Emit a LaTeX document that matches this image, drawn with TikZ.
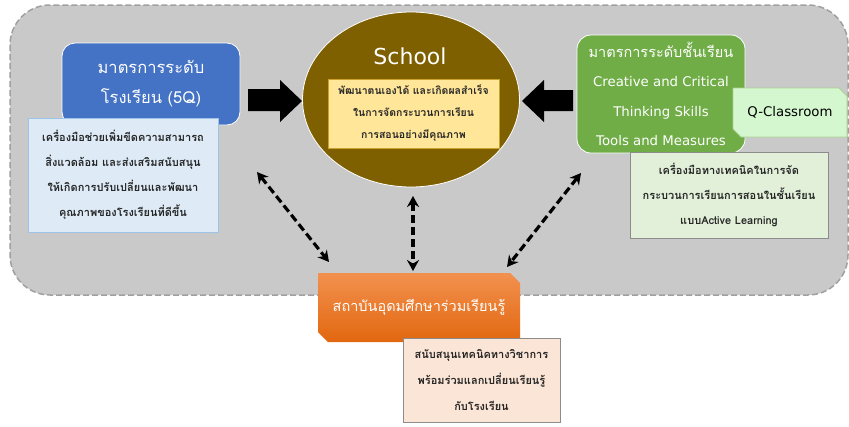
\documentclass[tikz,border=0pt]{standalone}
\usepackage{fontspec}
\setmainfont[Script=Thai]{Loma}
\newfontfamily\latinfont{DejaVu Sans}
\usetikzlibrary{shapes.geometric,arrows.meta}
\definecolor{bgc}{HTML}{C9C9C9}
\definecolor{bgline}{HTML}{A0A0A0}
\definecolor{blueb}{HTML}{4472C4}
\definecolor{lblue}{HTML}{DEEBF7}
\definecolor{lblueline}{HTML}{9DC3E6}
\definecolor{brownc}{HTML}{7F6000}
\definecolor{yellowc}{HTML}{FFE699}
\definecolor{yellowline}{HTML}{C9A227}
\definecolor{greenb}{HTML}{70AD47}
\definecolor{qgreen}{HTML}{D5F7CF}
\definecolor{qline}{HTML}{A9D18E}
\definecolor{lgreen}{HTML}{E2F0D9}
\definecolor{boxline}{HTML}{8C8C8C}
\definecolor{orangetop}{HTML}{F2914F}
\definecolor{orangebot}{HTML}{E2670F}
\definecolor{peach}{HTML}{FBE5D6}
\definecolor{txt}{HTML}{262626}
\tikzset{
  bgbox/.style={fill=bgc,draw=bgline,line width=1.5pt,dash pattern=on 6pt off 3pt,rounded corners=40pt},
  infobox/.style={rectangle,align=center,text=txt,line width=0.8pt,inner sep=0pt},
  blockarrow/.style={fill=black},
  darr/.style={line width=3.2pt,dash pattern=on 8pt off 4pt,{Stealth[length=11pt,width=12pt]}-{Stealth[length=11pt,width=12pt]}},
  wtext/.style={text=white,align=center,inner sep=0pt}
}
\begin{document}
\begin{tikzpicture}[x=1pt,y=-1pt]
\useasboundingbox (0,0) rectangle (849,426);
% background panel
\draw[bgbox] (10,5) rectangle (848,295);

% school level (blue)
\node[rectangle,rounded corners=13pt,fill=blueb,draw=white,line width=0.8pt,
      minimum width=178pt,minimum height=82pt,wtext,font=\fontsize{16.5}{30}\selectfont] (blue) at (151,84)
  {มาตรการระดับ\\โรงเรียน (5Q)};
\node[infobox,fill=lblue,draw=lblueline,minimum width=190pt,minimum height=114pt,
      font=\fontsize{11}{25}\selectfont\bfseries] (bluenote) at (123,175)
  {เครื่องมือช่วยเพิ่มขีดความสามารถ\\สิ่งแวดล้อม และส่งเสริมสนับสนุน\\ให้เกิดการปรับเปลี่ยนและพัฒนา\\คุณภาพของโรงเรียนที่ดีขึ้น};

% school ellipse
\node[ellipse,fill=brownc,draw=white,line width=0.8pt,minimum width=217pt,minimum height=175pt] (school) at (411,99.5) {};
\node[wtext,font=\latinfont\fontsize{22}{26}\selectfont] (schooltitle) at (410,56) {School};
\node[infobox,fill=yellowc,draw=yellowline,minimum width=171pt,minimum height=69pt,
      font=\fontsize{10.5}{22}\selectfont\bfseries] (goal) at (413.5,113.5)
  {พัฒนาตนเองได้ และเกิดผลสำเร็จ\\ในการจัดกระบวนการเรียน\\การสอนอย่างมีคุณภาพ};

% block arrows
\fill[blockarrow] (248,89) -- (280,89) -- (280,80) -- (302,101) -- (280,122) -- (280,111) -- (248,111) -- cycle;
\fill[blockarrow] (573,90) -- (544,90) -- (544,80) -- (522,101) -- (544,122) -- (544,111) -- (573,111) -- cycle;

% classroom level (green)
\node[rectangle,rounded corners=14pt,fill=greenb,draw=white,line width=0.8pt,
      minimum width=168pt,minimum height=118pt,wtext,font=\fontsize{14.5}{29.5}\selectfont] (green) at (661,94)
  {มาตรการระดับชั้นเรียน\\{\latinfont\fontsize{13.3}{29.5}\selectfont Creative and Critical}\\{\latinfont\fontsize{13.3}{29.5}\selectfont Thinking Skills}\\{\latinfont\fontsize{13.3}{29.5}\selectfont Tools and Measures}};
\filldraw[fill=qgreen,draw=qline,line width=0.8pt] (733,88) -- (839,88) -- (847,96) -- (847,137) -- (741,137) -- (733,129) -- cycle;
\node[text=black,font=\latinfont\fontsize{13.3}{16}\selectfont,inner sep=0pt] (qclass) at (790,112.5) {Q-Classroom};
\node[infobox,fill=lgreen,draw=boxline,minimum width=198pt,minimum height=86pt,
      font=\fontsize{11}{25}\selectfont\bfseries] (greennote) at (729,195)
  {เครื่องมือทางเทคนิคในการจัด\\กระบวนการเรียนการสอนในชั้นเรียน\\แบบActive Learning};

% university (orange)
\shade[top color=orangetop,bottom color=orangebot] (318,273) -- (510,273) -- (520,283) -- (520,342) -- (328,342) -- (318,332) -- cycle;
\node[wtext,font=\fontsize{14.5}{18}\selectfont] (uni) at (419,307) {สถาบันอุดมศึกษาร่วมเรียนรู้};
\node[infobox,fill=peach,draw=boxline,minimum width=157pt,minimum height=84pt,
      font=\fontsize{11}{26}\selectfont\bfseries] (uninote) at (481.5,380)
  {สนับสนุนเทคนิคทางวิชาการ\\พร้อมร่วมแลกเปลี่ยนเรียนรู้\\กับโรงเรียน};

% dashed double arrows
\coordinate (l1) at (257,172);
\coordinate (l2) at (329,262);
\coordinate (m1) at (413,196);
\coordinate (m2) at (413,271);
\coordinate (r1) at (581,173);
\coordinate (r2) at (507,267);
\draw[darr] (l1) -- (l2);
\draw[darr] (m1) -- (m2);
\draw[darr] (r1) -- (r2);
\end{tikzpicture}
\end{document}
